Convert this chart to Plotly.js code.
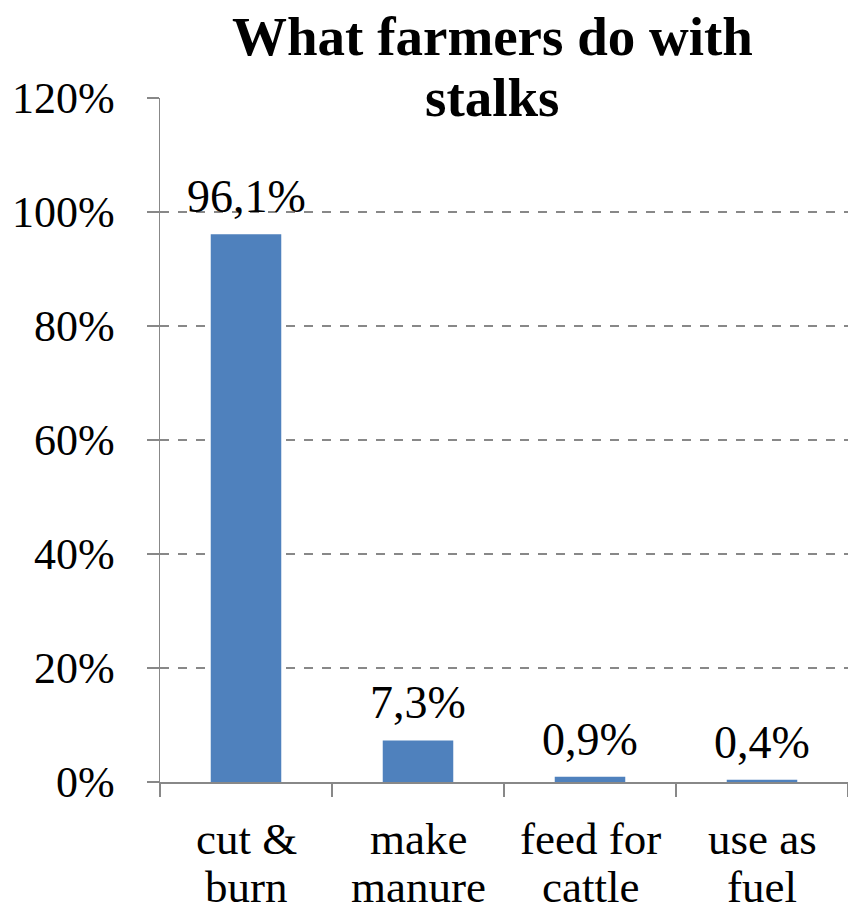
<!DOCTYPE html>
<html>
<head>
<meta charset="utf-8">
<script src="https://cdn.plot.ly/plotly-3.0.1.min.js"></script>
<style>html,body{margin:0;padding:0;background:#fff;}#chart{width:848px;height:914px;}</style>
</head>
<body>
<div id="chart"></div>
<script>
const categories = ["cut & burn", "make manure", "feed for cattle", "use as fuel"];
const categoryLine1 = ["cut &", "make", "feed for", "use as"];
const categoryLine2 = ["burn", "manure", "cattle", "fuel"];
const values = [96.1, 7.3, 0.9, 0.4];
const valueLabels = ["96,1%", "7,3%", "0,9%", "0,4%"];
const yTicks = [0, 20, 40, 60, 80, 100, 120];
const yTickLabels = ["0%", "20%", "40%", "60%", "80%", "100%", "120%"];
const titleLines = ["What farmers do with", "stalks"];

const serif = "'Times New Roman', 'Liberation Serif', serif";

const trace = {
  type: "bar",
  x: categories,
  y: values,
  marker: {color: "#4F81BD"},
  hoverinfo: "none"
};

const annotations = [];
// title lines
titleLines.forEach((t, i) => {
  annotations.push({
    text: "<b>" + t + "</b>",
    font: {family: serif, size: 55, color: "#000"},
    xref: "paper", x: 0.484, xanchor: "center",
    yref: "paper", y: 1, yanchor: "middle", yshift: i === 0 ? 62 : 1,
    showarrow: false
  });
});
// value labels
categories.forEach((c, i) => {
  annotations.push({
    x: c, y: values[i], xref: "x", yref: "y",
    text: valueLabels[i], showarrow: false,
    yanchor: "bottom", yshift: 10,
    font: {family: serif, size: 46, color: "#000"}
  });
});
// category labels (two lines)
categories.forEach((c, i) => {
  [categoryLine1[i], categoryLine2[i]].forEach((t, j) => {
    annotations.push({
      x: c, xref: "x", y: 0, yref: "paper",
      text: t, showarrow: false,
      yanchor: "middle", yshift: j === 0 ? -57 : -105,
      font: {family: serif, size: 45, color: "#000"}
    });
  });
});

const layout = {
  width: 848,
  height: 914,
  margin: {l: 160, r: 0, t: 98, b: 132, pad: 0},
  paper_bgcolor: "#fff",
  plot_bgcolor: "#fff",
  bargap: 0.59,
  showlegend: false,
  font: {family: serif, color: "#000"},
  annotations: annotations,
  xaxis: {
    type: "category",
    tickson: "boundaries",
    ticks: "outside",
    ticklen: 13,
    tickcolor: "#888",
    tickwidth: 1.5,
    showline: true,
    linecolor: "#888",
    linewidth: 1.5,
    showgrid: false,
    showticklabels: false,
    automargin: false
  },
  yaxis: {
    range: [0, 120],
    tickvals: yTicks,
    ticktext: yTickLabels,
    ticks: "outside",
    ticklen: 12,
    tickcolor: "#888",
    tickwidth: 1.5,
    ticklabelstandoff: 23,
    showline: true,
    linecolor: "#888",
    linewidth: 1.5,
    showgrid: true,
    gridcolor: "#888",
    gridwidth: 1.5,
    griddash: "dash",
    zeroline: false,
    tickfont: {family: serif, size: 44, color: "#000"},
    automargin: false
  }
};

Plotly.newPlot("chart", [trace], layout, {staticPlot: true});
</script>
</body>
</html>
